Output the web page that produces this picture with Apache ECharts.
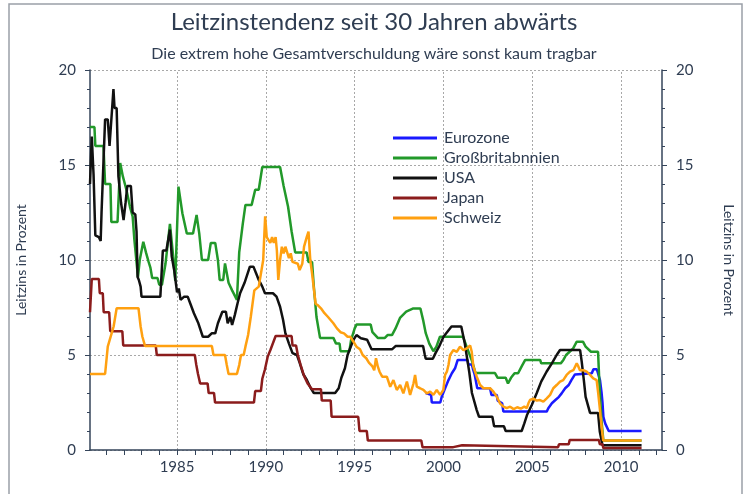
<!DOCTYPE html>
<html><head><meta charset="utf-8">
<script src="https://cdn.jsdelivr.net/npm/echarts@6/dist/echarts.min.js"></script>
<style>html,body{margin:0;padding:0;background:#fff}#c{width:748px;height:494px}</style>
</head><body><div id="c"></div>
<script>
// ---- data (year, Leitzins %) ----
const seriesNames = ['Eurozone','Großbritabnnien','USA','Japan','Schweiz'];
const xLabelYears = [1985,1990,1995,2000,2005,2010];
const xTickYears = [1981,1982,1983,1984,1985,1986,1987,1988,1989,1990,1991,1992,1993,1994,1995,1996,1997,1998,1999,2000,2001,2002,2003,2004,2005,2006,2007,2008,2009,2010,2011,2012];
const gridYears = [1985,1990,1995,2000,2005,2010];

const eurozone = [[1999.0,3.0],[1999.3,2.9],[1999.34,2.5],[1999.82,2.5],[1999.9,2.8],[2000.09,3.25],[2000.28,3.68],[2000.47,4.04],[2000.65,4.3],[2000.8,4.74],[2001.35,4.74],[2001.4,4.5],[2001.6,4.5],[2001.66,4.25],[2001.76,3.95],[2001.9,3.25],[2002.62,3.25],[2002.7,2.9],[2003.0,2.9],[2003.05,2.6],[2003.3,2.46],[2003.37,2.02],[2005.81,2.02],[2005.9,2.2],[2006.1,2.46],[2006.3,2.63],[2006.5,2.8],[2006.65,2.98],[2006.85,3.25],[2007.05,3.42],[2007.2,3.68],[2007.4,3.98],[2007.5,4.04],[2008.35,4.04],[2008.44,4.25],[2008.63,4.25],[2008.81,3.68],[2008.9,3.0],[2008.95,2.5],[2009.0,1.75],[2009.1,1.4],[2009.3,1.0],[2011.15,1.0]];

const grossbritannien = [[1980.1,17.0],[1980.35,17.0],[1980.4,16.0],[1980.86,16.0],[1980.95,14.0],[1981.25,14.0],[1981.3,12.0],[1981.65,12.0],[1981.8,15.1],[1981.95,14.4],[1982.15,13.7],[1982.35,12.8],[1982.5,12.3],[1982.6,11.05],[1982.8,9.1],[1982.9,10.0],[1983.1,10.96],[1983.25,10.4],[1983.4,9.9],[1983.5,9.6],[1983.6,9.05],[1983.9,9.05],[1984.0,8.7],[1984.15,8.7],[1984.35,9.8],[1984.6,11.9],[1984.75,10.5],[1984.9,8.9],[1985.08,13.86],[1985.3,12.46],[1985.55,11.4],[1985.9,11.4],[1986.1,12.37],[1986.25,11.4],[1986.4,10.0],[1986.75,10.0],[1986.9,10.9],[1987.15,10.9],[1987.3,10.0],[1987.4,8.95],[1987.6,8.95],[1987.7,9.82],[1987.9,8.8],[1988.1,8.4],[1988.37,7.9],[1988.5,10.4],[1988.7,11.9],[1988.85,12.9],[1989.2,12.9],[1989.4,13.7],[1989.6,13.7],[1989.8,14.9],[1990.8,14.9],[1991.0,13.9],[1991.1,13.9],[1991.25,12.8],[1991.45,11.5],[1991.65,10.4],[1992.3,10.4],[1992.4,9.9],[1992.6,9.9],[1992.7,8.6],[1992.85,7.0],[1993.05,5.9],[1993.8,5.9],[1993.95,5.6],[1994.15,5.6],[1994.2,5.2],[1994.7,5.2],[1994.8,5.8],[1995.0,6.4],[1995.1,6.6],[1995.9,6.6],[1996.0,6.2],[1996.3,5.9],[1996.7,5.9],[1996.85,6.05],[1997.1,6.05],[1997.3,6.4],[1997.55,6.95],[1997.9,7.28],[1998.3,7.45],[1998.7,7.45],[1998.85,6.85],[1999.0,6.15],[1999.2,5.6],[1999.43,5.2],[1999.6,5.44],[1999.8,5.96],[2001.1,5.96],[2001.3,5.44],[2001.6,4.7],[2001.8,4.05],[2002.9,4.05],[2003.05,3.8],[2003.5,3.8],[2003.63,3.5],[2003.8,3.8],[2004.0,4.04],[2004.2,4.04],[2004.4,4.4],[2004.6,4.74],[2005.44,4.74],[2005.5,4.56],[2006.6,4.56],[2006.75,4.74],[2006.9,5.0],[2007.1,5.17],[2007.3,5.35],[2007.5,5.7],[2007.85,5.7],[2008.0,5.44],[2008.3,5.17],[2008.7,5.17],[2008.8,3.0],[2008.9,1.5],[2009.0,0.5],[2011.15,0.5]];

const usa = [[1980.1,14.0],[1980.2,16.5],[1980.3,14.5],[1980.4,11.3],[1980.6,11.2],[1980.7,11.0],[1980.75,12.5],[1980.95,17.4],[1981.1,17.4],[1981.2,16.0],[1981.26,16.0],[1981.42,19.0],[1981.48,18.0],[1981.6,18.0],[1981.7,14.4],[1981.85,13.0],[1981.99,12.1],[1982.1,13.0],[1982.2,13.9],[1982.4,13.9],[1982.5,12.5],[1982.65,12.4],[1982.72,11.5],[1982.78,9.1],[1982.85,8.95],[1982.95,8.6],[1983.0,8.07],[1984.06,8.07],[1984.2,10.5],[1984.4,10.5],[1984.6,11.6],[1984.7,10.2],[1984.85,9.4],[1985.0,8.3],[1985.1,8.5],[1985.2,7.9],[1985.4,8.07],[1985.6,8.07],[1985.75,7.7],[1985.95,7.2],[1986.2,6.67],[1986.45,5.96],[1986.75,5.96],[1986.95,6.14],[1987.15,6.14],[1987.3,6.67],[1987.55,7.28],[1987.75,7.28],[1987.85,6.67],[1988.0,7.0],[1988.1,6.58],[1988.25,7.1],[1988.4,7.7],[1988.55,8.25],[1988.8,8.8],[1989.1,9.65],[1989.3,9.65],[1989.45,9.3],[1989.6,8.95],[1989.8,8.6],[1989.95,8.25],[1990.4,8.25],[1990.6,8.07],[1990.8,7.54],[1990.97,6.84],[1991.1,6.14],[1991.3,5.6],[1991.5,5.1],[1991.75,5.0],[1991.9,4.6],[1992.1,4.0],[1992.3,3.7],[1992.5,3.3],[1992.7,3.0],[1993.9,3.0],[1994.1,3.25],[1994.25,3.8],[1994.45,4.3],[1994.6,5.0],[1994.93,5.8],[1995.1,6.05],[1995.35,5.88],[1995.7,5.8],[1995.95,5.3],[1997.1,5.3],[1997.3,5.47],[1998.85,5.47],[1998.95,5.0],[1999.0,4.8],[1999.4,4.8],[1999.55,5.1],[1999.75,5.44],[2000.0,5.96],[2000.45,6.5],[2001.0,6.5],[2001.1,6.05],[2001.2,5.6],[2001.3,5.0],[2001.45,4.1],[2001.6,3.0],[2001.87,2.1],[2002.0,1.75],[2002.75,1.75],[2002.85,1.25],[2003.4,1.25],[2003.5,1.0],[2004.4,1.0],[2004.55,1.4],[2004.7,1.84],[2004.97,2.37],[2005.25,3.0],[2005.5,3.6],[2005.8,4.12],[2006.1,4.56],[2006.37,5.0],[2006.56,5.26],[2007.69,5.26],[2007.78,4.65],[2007.9,3.68],[2008.0,2.8],[2008.25,1.95],[2008.7,1.95],[2008.8,0.96],[2008.95,0.25],[2011.15,0.25]];

const japan = [[1980.1,7.25],[1980.2,9.0],[1980.6,9.0],[1980.65,8.25],[1980.82,8.25],[1980.87,7.25],[1981.18,7.25],[1981.24,6.25],[1981.92,6.25],[1981.97,5.5],[1983.8,5.5],[1983.86,5.0],[1986.0,5.0],[1986.08,4.5],[1986.18,4.0],[1986.3,3.5],[1986.72,3.5],[1986.78,3.0],[1987.08,3.0],[1987.14,2.5],[1989.33,2.5],[1989.4,3.1],[1989.72,3.1],[1989.8,3.75],[1989.95,4.25],[1990.1,4.9],[1990.25,5.25],[1990.55,6.0],[1991.45,6.0],[1991.5,5.5],[1991.7,5.5],[1991.8,5.0],[1991.95,4.5],[1992.15,3.9],[1992.35,3.5],[1992.6,3.2],[1993.1,3.2],[1993.15,2.6],[1993.65,2.6],[1993.7,1.75],[1995.2,1.75],[1995.27,1.0],[1995.68,1.0],[1995.74,0.5],[1998.75,0.5],[1998.82,0.15],[2000.55,0.15],[2000.6,0.25],[2001.05,0.25],[2001.1,0.15],[2006.45,0.15],[2006.5,0.3],[2007.05,0.3],[2007.1,0.52],[2008.75,0.52],[2008.8,0.3],[2008.95,0.3],[2009.0,0.1],[2011.15,0.1]];

const schweiz = [[1980.1,4.0],[1980.95,4.0],[1981.1,5.44],[1981.43,6.5],[1981.6,7.46],[1982.83,7.46],[1982.95,6.5],[1983.05,5.96],[1983.2,5.47],[1986.96,5.47],[1987.05,5.0],[1987.7,5.0],[1987.8,4.47],[1987.9,4.0],[1988.37,4.0],[1988.5,4.47],[1988.6,5.0],[1988.75,5.0],[1988.85,5.44],[1989.0,6.05],[1989.15,7.0],[1989.35,8.4],[1989.6,8.6],[1989.85,10.0],[1989.96,12.3],[1990.05,11.2],[1990.15,11.05],[1990.25,10.9],[1990.35,11.2],[1990.45,10.9],[1990.55,11.2],[1990.62,10.5],[1990.7,8.95],[1990.8,10.0],[1990.9,10.7],[1991.0,10.35],[1991.1,10.7],[1991.2,10.4],[1991.3,10.1],[1991.4,10.35],[1991.5,9.9],[1991.6,9.8],[1991.8,9.8],[1991.9,9.47],[1992.05,9.8],[1992.15,10.7],[1992.3,11.2],[1992.4,11.5],[1992.5,10.0],[1992.6,9.3],[1992.8,7.7],[1992.95,7.6],[1993.1,7.46],[1993.3,7.2],[1993.5,7.0],[1993.8,6.67],[1994.0,6.4],[1994.2,6.2],[1994.4,6.14],[1994.6,5.96],[1994.75,5.96],[1994.93,5.7],[1995.1,5.44],[1995.3,5.3],[1995.45,5.0],[1995.65,4.83],[1995.8,4.6],[1996.0,4.4],[1996.1,4.2],[1996.2,4.83],[1996.3,4.4],[1996.4,4.12],[1996.55,3.86],[1996.81,3.86],[1997.0,3.33],[1997.18,3.68],[1997.37,3.16],[1997.56,3.42],[1997.74,2.98],[1997.94,3.6],[1998.12,2.9],[1998.31,3.5],[1998.4,3.95],[1998.5,3.33],[1998.68,3.25],[1998.87,3.16],[1999.06,2.98],[1999.25,3.07],[1999.43,2.9],[1999.62,3.16],[1999.81,2.9],[1999.99,3.16],[2000.09,3.95],[2000.19,4.12],[2000.28,4.47],[2000.37,5.0],[2000.56,5.26],[2000.75,5.17],[2000.93,5.44],[2001.12,5.26],[2001.31,5.35],[2001.5,5.5],[2001.59,5.17],[2001.68,4.4],[2001.87,3.86],[2002.06,3.42],[2002.25,3.25],[2002.62,3.25],[2002.81,3.07],[2003.0,2.8],[2003.18,2.46],[2003.37,2.28],[2003.56,2.2],[2003.75,2.28],[2003.95,2.15],[2004.15,2.25],[2004.35,2.18],[2004.55,2.28],[2004.69,2.2],[2004.78,2.46],[2004.87,2.63],[2005.06,2.7],[2005.25,2.6],[2005.43,2.63],[2005.62,2.55],[2005.81,2.72],[2006.0,2.9],[2006.18,3.25],[2006.37,3.42],[2006.56,3.6],[2006.74,3.68],[2006.93,3.95],[2007.12,4.12],[2007.31,4.2],[2007.5,4.56],[2007.59,4.4],[2007.68,4.2],[2007.87,4.2],[2008.06,4.12],[2008.25,3.95],[2008.43,3.77],[2008.53,3.86],[2008.62,3.68],[2008.71,2.98],[2008.81,2.1],[2008.9,1.23],[2008.99,0.5],[2010.5,0.5],[2010.59,0.6],[2010.68,0.5],[2011.15,0.5]];

// ---- chart ----
const txt = '#2f3d52';
const axisCol = '#34445a';
const font = 'Lato';
const colors = ['#1a1aff','#22992a','#111111','#8b1c1c','#ffa010'];
const dataSets = [eurozone, grossbritannien, usa, japan, schweiz];

const chart = echarts.init(document.getElementById('c'), null, {renderer:'canvas'});
const series = [{
  name:'_grid', type:'line', data:[], silent:true,
  markLine:{silent:true, symbol:'none', z:0, label:{show:false},
    lineStyle:{color:'#a8a8a8', type:[2,2], width:1},
    emphasis:{disabled:true},
    data: gridYears.map(v=>({xAxis:v}))}
}];
seriesNames.forEach((n,i)=>{
  series.push({name:n, type:'line', data:dataSets[i], showSymbol:false, symbol:'none',
    lineStyle:{width:2.5, color:colors[i]}, itemStyle:{color:colors[i]},
    emphasis:{disabled:true}, z:2+i, animation:false});
});

chart.setOption({
  animation:false,
  backgroundColor:'#ffffff',
  graphic:[{type:'rect', shape:{x:9, y:4, width:733, height:500}, style:{fill:'none', stroke:'#9aa0a8', lineWidth:1.5}, silent:true}],
  title:[
    {text:'Leitzinstendenz seit 30 Jahren abwärts', left:'center', top:5,
     textStyle:{fontFamily:font, fontSize:24, fontWeight:'normal', color:txt}},
    {text:'Die extrem hohe Gesamtverschuldung wäre sonst kaum tragbar', left:'center', top:41,
     textStyle:{fontFamily:font, fontSize:16, fontWeight:'normal', color:txt}}
  ],
  legend:{data:seriesNames, orient:'vertical', left:388, top:125, icon:'rect', itemWidth:44, itemHeight:3, itemGap:4,
    textStyle:{fontFamily:font, fontSize:16, color:txt, lineHeight:14, padding:[0,0,0,2]}},
  grid:{left:90, right:86, top:70, bottom:44, containLabel:false},
  xAxis:{type:'value', min:1980.1, max:2012.3,
    axisLine:{show:true, onZero:false, lineStyle:{color:axisCol, width:1.5}},
    axisTick:{show:true, customValues:xTickYears, length:5, lineStyle:{color:axisCol, width:1}},
    axisLabel:{customValues:xLabelYears, formatter:v=>String(Math.round(v)), margin:10, fontFamily:font, fontSize:15, color:txt},
    splitLine:{show:false}},
  yAxis:[
    {type:'value', min:0, max:20, interval:5, position:'left',
     name:'Leitzins in Prozent', nameLocation:'middle', nameGap:62, nameRotate:90,
     nameTextStyle:{fontFamily:font, fontSize:14, color:txt},
     axisLine:{show:true, lineStyle:{color:axisCol, width:1.5}},
     axisTick:{show:true, length:5, lineStyle:{color:axisCol}},
     minorTick:{show:true, splitNumber:5, length:3, lineStyle:{color:axisCol}},
     axisLabel:{margin:14, fontFamily:font, fontSize:15, color:txt},
     splitLine:{show:true, lineStyle:{color:'#a8a8a8', type:[2,2], width:1}}},
    {type:'value', min:0, max:20, interval:5, position:'right',
     name:'Leitzins in Prozent', nameLocation:'middle', nameGap:60, nameRotate:-90,
     nameTextStyle:{fontFamily:font, fontSize:14, color:txt},
     axisLine:{show:true, lineStyle:{color:axisCol, width:1.5}},
     axisTick:{show:true, length:5, lineStyle:{color:axisCol}},
     minorTick:{show:true, splitNumber:5, length:3, lineStyle:{color:axisCol}},
     axisLabel:{margin:14, fontFamily:font, fontSize:15, color:txt},
     splitLine:{show:false}}
  ],
  series: series
});
</script></body></html>
